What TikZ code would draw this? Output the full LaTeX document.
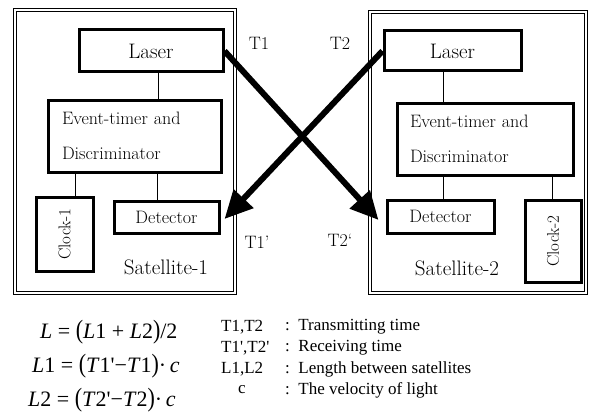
\documentclass[tikz,border=0pt]{standalone}
\usepackage{fontspec}
\usepackage{graphicx}
\usetikzlibrary{positioning,arrows.meta}
\newfontfamily\legendfont{Liberation Serif}
\newcommand{\lpar}{\scalebox{1}[1.2]{(}}
\newcommand{\rpar}{\scalebox{1}[1.2]{)}}

\begin{document}
\begin{tikzpicture}[x=1pt, y=-1pt,
    satnode/.style={rectangle, draw=black, double, double distance=1.8pt, line width=1pt, inner sep=0},
    squarednode/.style={rectangle, draw=black, line width=3pt, inner sep=0},
    beam/.style={line width=6pt, -{Triangle[length=28pt, width=26pt]}},
    keytext/.style={anchor=west, inner sep=0, font=\legendfont\fontsize{17}{19}\selectfont},
    eqtext/.style={anchor=west, inner sep=0, font=\legendfont\fontsize{22}{24}\selectfont},
    ]
    \tikzstyle{every node}=[font=\fontsize{18}{20}\selectfont]
    \useasboundingbox (0,0) rectangle (589,412);
    %Satellite 1
    \node[satnode, minimum width=220pt, minimum height=283pt] (sat1) at (125,151.5) {};
    \node[squarednode, minimum width=144pt, minimum height=42pt, font=\fontsize{21}{23}\selectfont] (laser1) at (151,51) {Laser};
    \node[squarednode, minimum width=173pt, minimum height=72pt, text width=145pt, align=left, font=\fontsize{18}{35}\selectfont] (event1) at (134.5,136) {Event-timer and\\Discriminator};
    \node[squarednode, minimum width=57pt, minimum height=74pt, font=\fontsize{17}{19}\selectfont] (clock1) at (64.5,234) {\rotatebox{90}{Clock-1}};
    \node[squarednode, minimum width=105pt, minimum height=32pt] (det1) at (166.5,217) {Detector};
    \node[font=\fontsize{21}{23}\selectfont] (sat1label) at (166,267) {Satellite-1};
    %Satellite 2
    \node[satnode, minimum width=216pt, minimum height=281pt] (sat2) at (478,152.5) {};
    \node[squarednode, minimum width=137pt, minimum height=40pt, font=\fontsize{21}{23}\selectfont] (laser2) at (452.5,51) {Laser};
    \node[squarednode, minimum width=176pt, minimum height=72pt, text width=150pt, align=left, font=\fontsize{18}{35}\selectfont] (event2) at (485,139) {Event-timer and\\Discriminator};
    \node[squarednode, minimum width=107pt, minimum height=33pt] (det2) at (440.5,216.5) {Detector};
    \node[squarednode, minimum width=56pt, minimum height=82pt, font=\fontsize{17}{19}\selectfont] (clock2) at (553,241) {\rotatebox{90}{Clock-2}};
    \node[font=\fontsize{21}{23}\selectfont] (sat2label) at (457,268) {Satellite-2};
    %Times
    \node (t1)  at (259,43)  {T1};
    \node (t1r) at (257,242) {T1'};
    \node (t2)  at (340,43)  {T2};
    \node (t2r) at (340,240) {T2`};

    %Lines
    \draw[line width=1pt] ([xshift=7pt]laser1.south) -- ([xshift=7pt]laser1.south |- event1.north);
    \draw[line width=1pt] ([xshift=-59.5pt]event1.south) -- ([xshift=-59.5pt]event1.south |- clock1.north);
    \draw[line width=1pt] ([xshift=22.5pt]event1.south) -- ([xshift=22.5pt]event1.south |- det1.north);
    \draw[line width=1pt] ([xshift=-9.5pt]laser2.south) -- ([xshift=-9.5pt]laser2.south |- event2.north);
    \draw[line width=1pt] ([xshift=-42pt]event2.south) -- ([xshift=-42pt]event2.south |- det2.north);
    \draw[line width=1pt] ([xshift=67pt]event2.south) -- ([xshift=67pt]event2.south |- clock2.north);
    \draw[beam] (laser1.east) -- ([xshift=-7pt,yshift=-3.5pt]det2.west);
    \draw[beam] (laser2.west) -- ([xshift=4pt,yshift=-2pt]det1.east);

    %Equations
    \node[eqtext] (eqL)  at (40,332) {\textit{L} = \lpar\textit{L}1 + \textit{L}2\rpar/2};
    \node[eqtext] (eqL1) at (32,366) {\textit{L}1 = \lpar\textit{T}1'−\textit{T}1\rpar·\,\textit{c}};
    \node[eqtext] (eqL2) at (28,400) {\textit{L}2 = \lpar\textit{T}2'−\textit{T}2\rpar·\,\textit{c}};

    %Legend
    \node[keytext] (k1) at (221,327) {T1,T2};
    \node[keytext] (k2) at (221,348) {T1',T2'};
    \node[keytext] (k3) at (221,369) {L1,L2};
    \node[keytext, anchor=center] (k4) at (242,390) {c};
    \node[keytext] (d1) at (285,327) {:\, Transmitting time};
    \node[keytext] (d2) at (285,348) {:\, Receiving time};
    \node[keytext] (d3) at (285,369) {:\, Length between satellites};
    \node[keytext] (d4) at (285,390) {:\, The velocity of light};
\end{tikzpicture}
\end{document}
